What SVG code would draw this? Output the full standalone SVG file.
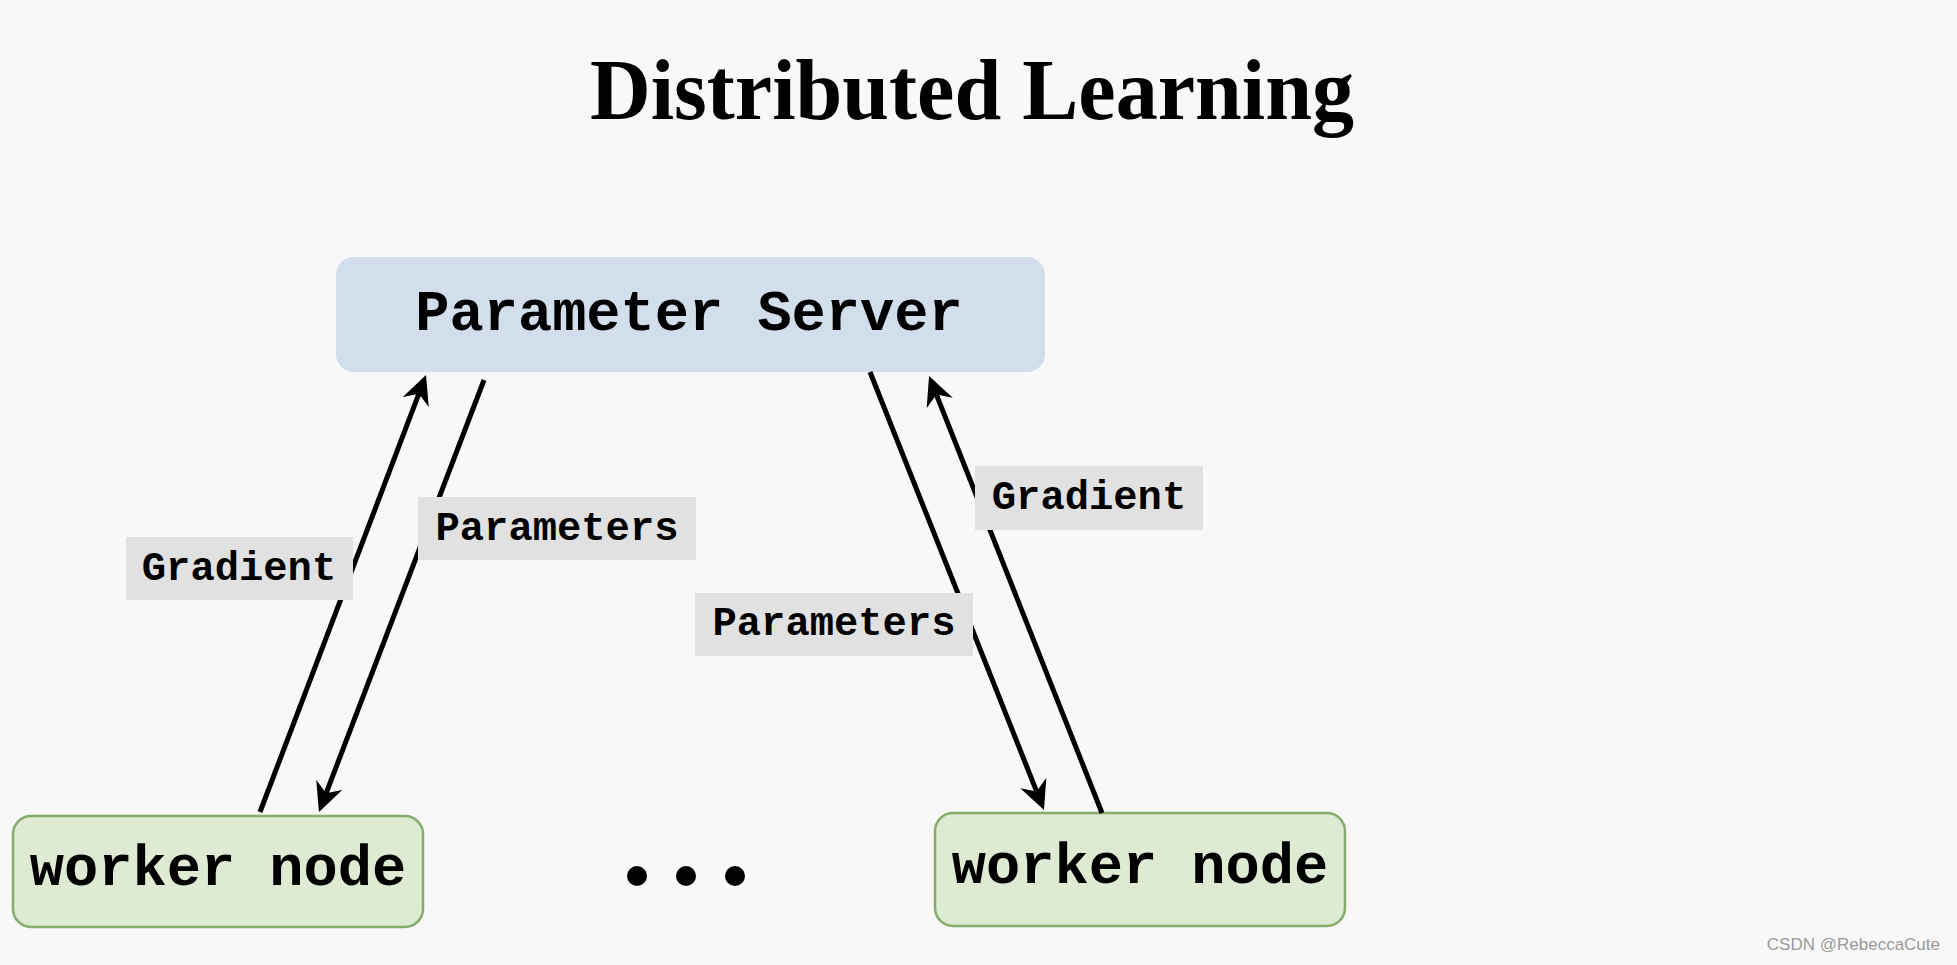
<svg xmlns="http://www.w3.org/2000/svg" width="1957" height="965" viewBox="0 0 1957 965">
  <defs>
    <marker id="arrow" markerUnits="userSpaceOnUse" markerWidth="29" markerHeight="28" refX="9" refY="14" orient="auto" viewBox="0 0 29 28">
      <path d="M29,14 L0,0 L9,14 L0,28 Z" fill="#000"/>
    </marker>
    <style>
      .mono { font-family: "Liberation Mono", "Courier New", monospace; font-weight: bold; fill: #000; text-anchor: middle; }
      .node-text { font-size: 57px; }
      .label-text { font-size: 40.5px; }
      .label-bg { fill: #e1e1e1; }
      .server { fill: #d3deed; }
      .worker { fill: #dfead2; stroke: #86ad6c; stroke-width: 2.5; }
      .edge { stroke: #000; stroke-width: 5; fill: none; marker-end: url(#arrow); }
    </style>
  </defs>

  <rect x="0" y="0" width="1957" height="965" fill="#f8f8f8"/>

  <text id="title" x="972" y="119" font-family="'Liberation Serif', 'Times New Roman', serif" font-weight="bold" font-size="87" text-anchor="middle" fill="#000" textLength="764" lengthAdjust="spacingAndGlyphs">Distributed Learning</text>

  <g id="parameter-server">
    <rect class="server" x="336" y="257" width="709" height="115" rx="18"/>
    <text class="mono node-text" x="689" y="330">Parameter Server</text>
  </g>

  <g id="worker-left">
    <rect class="worker" x="13" y="816" width="410" height="111" rx="18"/>
    <text class="mono node-text" x="218" y="885">worker node</text>
  </g>

  <g id="worker-right">
    <rect class="worker" x="935" y="813" width="410" height="113" rx="18"/>
    <text class="mono node-text" x="1140" y="883">worker node</text>
  </g>

  <g id="ellipsis" fill="#000">
    <circle cx="637" cy="876" r="10"/>
    <circle cx="686" cy="876" r="10"/>
    <circle cx="735" cy="876" r="10"/>
  </g>

  <g id="connectors">
    <line class="edge" x1="260" y1="812" x2="418.9" y2="393.7"/>
    <line class="edge" x1="484" y1="380" x2="326.1" y2="793.3"/>
    <line class="edge" x1="870" y1="372" x2="1036.6" y2="791.4"/>
    <line class="edge" x1="1102" y1="813" x2="936.4" y2="394.6"/>
  </g>

  <g id="label-gradient-left">
    <rect class="label-bg" x="126" y="537" width="227" height="63"/>
    <text class="mono label-text" x="239" y="580">Gradient</text>
  </g>
  <g id="label-parameters-left">
    <rect class="label-bg" x="418" y="497" width="278" height="63"/>
    <text class="mono label-text" x="557" y="540">Parameters</text>
  </g>
  <g id="label-gradient-right">
    <rect class="label-bg" x="975" y="466" width="228" height="64"/>
    <text class="mono label-text" x="1089" y="509">Gradient</text>
  </g>
  <g id="label-parameters-right">
    <rect class="label-bg" x="695" y="593" width="278" height="63"/>
    <text class="mono label-text" x="834" y="635">Parameters</text>
  </g>

  <text id="watermark" x="1940" y="950" font-family="'Liberation Sans', Arial, sans-serif" font-size="17" fill="#9a9a9a" text-anchor="end">CSDN @RebeccaCute</text>
</svg>
